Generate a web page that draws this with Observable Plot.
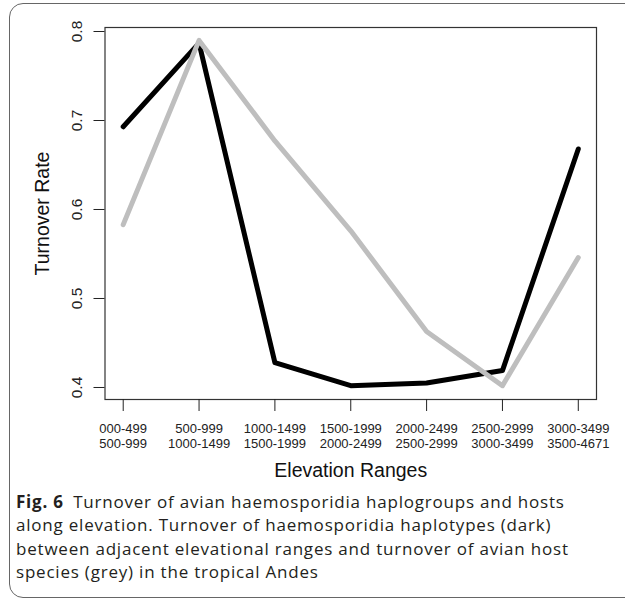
<!DOCTYPE html>
<html><head><meta charset="utf-8">
<script src="https://cdn.jsdelivr.net/npm/d3@7"></script>
<script src="https://cdn.jsdelivr.net/npm/@observablehq/plot@0.6"></script>
<style>
body{margin:0;background:#fff;width:625px;height:601px;overflow:hidden;position:relative;font-family:"Liberation Sans",Arial,sans-serif}
#box{position:absolute;left:9px;top:3px;width:640px;height:595px;border:1.5px solid #666;border-radius:14px;box-sizing:border-box}
#chart{position:absolute;left:0;top:0}
#caption{position:absolute;left:16px;top:490px;font-family:"Open Sans",sans-serif;font-size:17px;line-height:23.4px;color:#231f20;white-space:nowrap}
#caption div{height:23.4px}
#caption b{font-weight:700}
</style></head><body>
<div id="box"></div>
<div id="chart"></div>
<div id="caption"><div><span id="cap1"><b>Fig. 6</b>&ensp;Turnover of avian haemosporidia haplogroups and hosts</span></div><div>along elevation. Turnover of haemosporidia haplotypes (dark)</div><div>between adjacent elevational ranges and turnover of avian host</div><div>species (grey) in the tropical Andes</div></div>
<script>
const rangeLabels = ["000-499\n500-999", "500-999\n1000-1499", "1000-1499\n1500-1999", "1500-1999\n2000-2499", "2000-2499\n2500-2999", "2500-2999\n3000-3499", "3000-3499\n3500-4671"];
const rangeIndex = [1, 2, 3, 4, 5, 6, 7];
const haplotypeTurnover = [0.693, 0.787, 0.428, 0.402, 0.405, 0.419, 0.668];
const hostTurnover = [0.583, 0.790, 0.677, 0.576, 0.463, 0.402, 0.546];
const yTicks = [0.4, 0.5, 0.6, 0.7, 0.8];
const xTitle = "Elevation Ranges";
const yTitle = "Turnover Rate";

const hapRows = rangeIndex.map((x, i) => ({x, y: haplotypeTurnover[i]}));
const hostRows = rangeIndex.map((x, i) => ({x, y: hostTurnover[i]}));

const chart = Plot.plot({
  width: 625,
  height: 490,
  marginLeft: 104.5,
  marginRight: 29,
  marginTop: 27,
  marginBottom: 91,
  x: {type: "linear", domain: [0.76, 7.24]},
  y: {domain: [0.3865, 0.8045]},
  style: {fontFamily: "'Liberation Sans', Arial, sans-serif", color: "#222", background: "transparent", overflow: "visible"},
  marks: [
    Plot.frame({stroke: "#333", strokeWidth: 1.2}),
    Plot.axisY({ticks: yTicks, tickSize: 11, tickPadding: 12, tickRotate: -90, fontSize: 15.5, tickFormat: d => d.toFixed(1), label: null}),
    Plot.axisX({ticks: rangeIndex, tickSize: 12, tickPadding: 11, fontSize: 13, lineHeight: 1.15, tickFormat: i => rangeLabels[i - 1], label: null}),
    Plot.line(hapRows, {x: "x", y: "y", stroke: "#000", strokeWidth: 5, strokeLinejoin: "round", strokeLinecap: "round"}),
    Plot.line(hostRows, {x: "x", y: "y", stroke: "#bebebe", strokeWidth: 5, strokeLinejoin: "round", strokeLinecap: "round"}),
    Plot.text([yTitle], {text: d => d, frameAnchor: "left", rotate: -90, dx: -62, fontSize: 19.5, textAnchor: "middle", lineAnchor: "middle", fill: "#111"}),
    Plot.text([xTitle], {text: d => d, frameAnchor: "bottom", dy: 71, fontSize: 19.5, textAnchor: "middle", lineAnchor: "middle", fill: "#111"})
  ]
});
document.getElementById("chart").appendChild(chart);

// fit caption's first line to the reference width via letter spacing
const cap = document.getElementById("caption");
const span = document.getElementById("cap1");
const w = span.getBoundingClientRect().width;
const n = span.textContent.length;
const ls = Math.max(-0.5, Math.min(1.5, (549 - w) / n));
cap.style.letterSpacing = ls.toFixed(2) + "px";
</script>
</body></html>
